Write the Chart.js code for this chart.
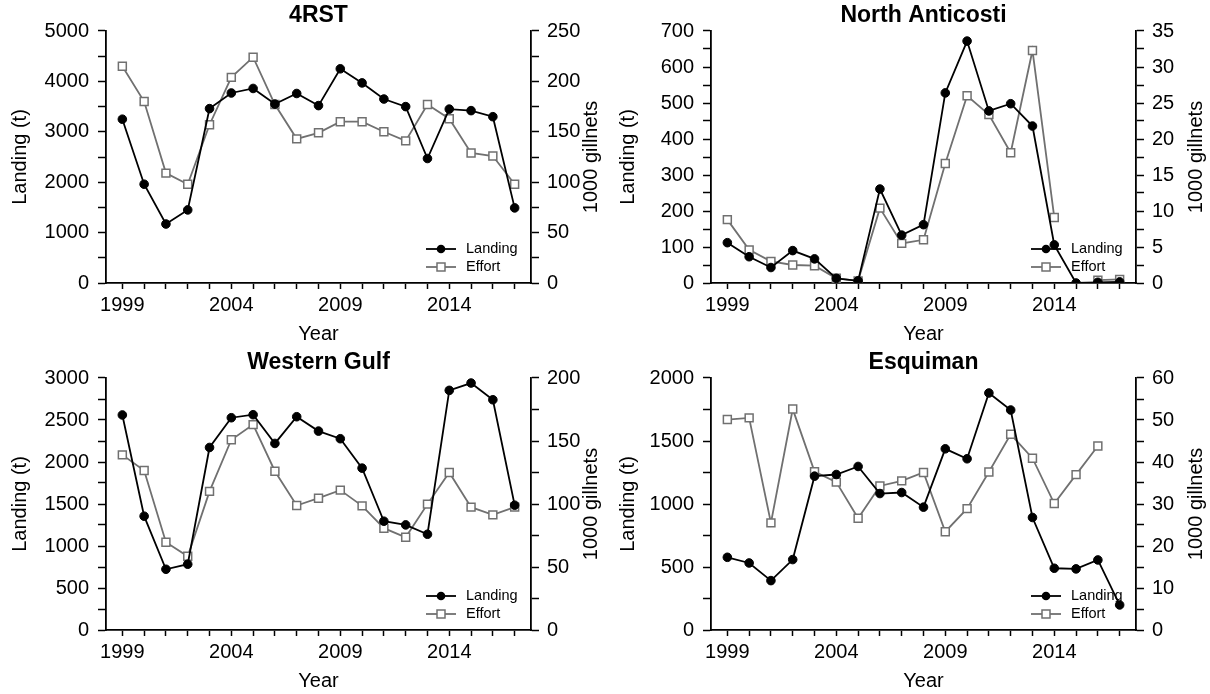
<!DOCTYPE html>
<html>
<head>
<meta charset="utf-8">
<script src="https://cdn.jsdelivr.net/npm/chart.js@4/dist/chart.umd.min.js"></script>
<style>
html,body{margin:0;padding:0;background:#fff;}
#wrap{position:relative;width:1210px;height:694px;overflow:hidden;}
.p{position:absolute;width:605px;height:347px;}
canvas{display:block;}
</style>
</head>
<body>
<div id="wrap">
  <div class="p" style="left:0;top:0"><canvas id="c1" width="605" height="347"></canvas></div>
  <div class="p" style="left:605px;top:0"><canvas id="c2" width="605" height="347"></canvas></div>
  <div class="p" style="left:0;top:347px"><canvas id="c3" width="605" height="347"></canvas></div>
  <div class="p" style="left:605px;top:347px"><canvas id="c4" width="605" height="347"></canvas></div>
</div>
<script>
// ---------- data ----------
const YEARS = [1999,2000,2001,2002,2003,2004,2005,2006,2007,2008,2009,2010,2011,2012,2013,2014,2015,2016,2017];
const X_LABEL_YEARS = [1999,2004,2009,2014];

const RST_LANDING = [3250,1960,1170,1450,3460,3770,3860,3550,3760,3520,4250,3970,3650,3500,2470,3450,3420,3300,1490];
const RST_EFFORT  = [215,180,109,98,157,204,224,177,143,149,160,160,150,141,177,163,129,126,98];
const RST_LEFT_TICKS  = [0,1000,2000,3000,4000,5000];
const RST_RIGHT_TICKS = [0,50,100,150,200,250];

const ANTI_LANDING = [112,73,43,90,67,13,6,261,133,162,528,672,478,498,436,106,0,2,3];
const ANTI_EFFORT  = [8.8,4.6,3.0,2.5,2.4,0.65,0.3,10.4,5.5,6.0,16.6,26.0,23.4,18.1,32.3,9.1,null,0.4,0.5];
const ANTI_LEFT_TICKS  = [0,100,200,300,400,500,600,700];
const ANTI_RIGHT_TICKS = [0,5,10,15,20,25,30,35];

const WG_LANDING = [2560,1355,723,783,2173,2527,2563,2221,2539,2368,2277,1927,1295,1251,1140,2853,2940,2741,1486];
const WG_EFFORT  = [139,126.6,69.7,58.5,110,151,163,126,98.8,104.6,111,98.5,80.8,73.6,99.9,125,97.5,91.4,97.5];
const WG_LEFT_TICKS  = [0,500,1000,1500,2000,2500,3000];
const WG_RIGHT_TICKS = [0,50,100,150,200];

const ESQ_LANDING = [577,532,392,559,1221,1234,1298,1083,1091,975,1438,1359,1881,1746,893,490,485,556,199];
const ESQ_EFFORT  = [50.1,50.5,25.5,52.6,37.7,35.2,26.6,34.3,35.5,37.5,23.4,28.9,37.6,46.6,40.9,30.1,37.0,43.8,null];
const ESQ_LEFT_TICKS  = [0,500,1000,1500,2000];
const ESQ_RIGHT_TICKS = [0,10,20,30,40,50,60];

// ---------- styling ----------
const FONT = '"Liberation Sans", Arial, Helvetica, sans-serif';
const GRAY = '#707070';

function withMinor(major) {
  const out = [];
  for (let i = 0; i < major.length; i++) {
    out.push({value: major[i]});
    if (i < major.length - 1) out.push({value: (major[i] + major[i + 1]) / 2});
  }
  return out;
}
function isMajor(list, v) { return list.some(m => Math.abs(m - v) < 1e-9); }

const panelDecor = {
  id: 'panelDecor',
  beforeDatasetsDraw(chart) {
    const ctx = chart.ctx, a = chart.chartArea;
    const items = [
      {label: 'Landing', color: '#000', style: 'circle', dy: -34},
      {label: 'Effort', color: GRAY, style: 'rect', dy: -16}
    ];
    ctx.save();
    for (const it of items) {
      const y = a.bottom + it.dy;
      const x0 = a.right - 105, x1 = a.right - 75, xm = (x0 + x1) / 2;
      ctx.strokeStyle = it.color;
      ctx.lineWidth = 1.8;
      ctx.beginPath(); ctx.moveTo(x0, y); ctx.lineTo(x1, y); ctx.stroke();
      if (it.style === 'circle') {
        ctx.fillStyle = '#000';
        ctx.beginPath(); ctx.arc(xm, y, 4.3, 0, Math.PI * 2); ctx.fill();
      } else {
        ctx.fillStyle = '#fff';
        ctx.lineWidth = 1.5;
        ctx.beginPath(); ctx.rect(xm - 4, y - 4, 8, 8); ctx.fill(); ctx.stroke();
      }
      ctx.fillStyle = '#000';
      ctx.font = '14.5px ' + FONT;
      ctx.textAlign = 'left';
      ctx.textBaseline = 'middle';
      ctx.fillText(it.label, a.right - 65, y);
    }
    ctx.restore();
  },
  afterDraw(chart, args, opts) {
    const ctx = chart.ctx, a = chart.chartArea;
    ctx.save();
    ctx.translate(chart.width - 14, (a.top + a.bottom) / 2);
    ctx.rotate(-Math.PI / 2);
    ctx.font = '20px ' + FONT;
    ctx.fillStyle = '#000';
    ctx.textAlign = 'center';
    ctx.textBaseline = 'middle';
    ctx.fillText(opts.text, 0, 0);
    ctx.restore();
  }
};

function axisCommon() {
  return {
    grid: {drawOnChartArea: false, drawTicks: true, tickLength: 8, color: '#000', tickWidth: 1.5},
    border: {display: true, color: '#000', width: 1.8}
  };
}

function makeChart(id, title, landing, effort, leftTicks, rightTicks, leftTitlePad) {
  const pts = arr => YEARS.map((yr, i) => ({x: yr, y: arr[i]}));
  const tickFont = {family: FONT, size: 20};
  new Chart(document.getElementById(id), {
    type: 'line',
    data: {
      datasets: [
        {label: 'Landing', data: pts(landing), yAxisID: 'y', borderColor: '#000', backgroundColor: '#000',
         borderWidth: 1.8, pointStyle: 'circle', pointRadius: 4.3, pointBorderWidth: 1, tension: 0, spanGaps: false},
        {label: 'Effort', data: pts(effort), yAxisID: 'y1', borderColor: GRAY, backgroundColor: '#fff',
         borderWidth: 1.8, pointStyle: 'rect', pointRadius: 5.6, pointBorderWidth: 1.5, tension: 0, spanGaps: false}
      ]
    },
    options: {
      responsive: false, animation: false, events: [],
      layout: {padding: 0},
      plugins: {
        legend: {display: false},
        tooltip: {enabled: false},
        title: {display: true, text: title, fullSize: false, color: '#000',
                font: {family: FONT, size: 23, weight: 'bold'}, padding: {top: 2, bottom: 1.4}},
        panelDecor: {text: '1000 gillnets'}
      },
      scales: {
        x: {
          type: 'linear', position: 'bottom', min: 1998.25, max: 2017.75,
          afterBuildTicks: s => { s.ticks = YEARS.map(v => ({value: v})); },
          afterFit: s => { s.height = 64; },
          ticks: {autoSkip: false, maxRotation: 0, padding: 4, color: '#000', font: tickFont,
                  callback: v => X_LABEL_YEARS.includes(v) ? String(v) : ''},
          grid: {drawOnChartArea: false, drawTicks: true, tickLength: 6, color: '#000', tickWidth: 1.5},
          border: {display: true, color: '#000', width: 1.8},
          title: {display: true, text: 'Year', color: '#000', font: tickFont, padding: {top: 0, bottom: 1}}
        },
        y: Object.assign(axisCommon(), {
          type: 'linear', position: 'left', min: 0, max: leftTicks[leftTicks.length - 1],
          afterBuildTicks: s => { s.ticks = withMinor(leftTicks); },
          afterFit: s => { s.width = 106; },
          ticks: {autoSkip: false, padding: 9, color: '#000', font: tickFont,
                  callback: v => isMajor(leftTicks, v) ? String(v) : ''},
          title: {display: true, text: 'Landing (t)', color: '#000', font: tickFont, padding: {top: leftTitlePad, bottom: 0}}
        }),
        y1: Object.assign(axisCommon(), {
          type: 'linear', position: 'right', min: 0, max: rightTicks[rightTicks.length - 1],
          afterBuildTicks: s => { s.ticks = withMinor(rightTicks); },
          afterFit: s => { s.width = 74; },
          ticks: {autoSkip: false, padding: 8, color: '#000', font: tickFont,
                  callback: v => isMajor(rightTicks, v) ? String(v) : ''}
        })
      }
    },
    plugins: [panelDecor]
  });
}

makeChart('c1', '4RST', RST_LANDING, RST_EFFORT, RST_LEFT_TICKS, RST_RIGHT_TICKS, 8);
makeChart('c2', 'North Anticosti', ANTI_LANDING, ANTI_EFFORT, ANTI_LEFT_TICKS, ANTI_RIGHT_TICKS, 11);
makeChart('c3', 'Western Gulf', WG_LANDING, WG_EFFORT, WG_LEFT_TICKS, WG_RIGHT_TICKS, 8);
makeChart('c4', 'Esquiman', ESQ_LANDING, ESQ_EFFORT, ESQ_LEFT_TICKS, ESQ_RIGHT_TICKS, 11);
</script>
</body>
</html>
